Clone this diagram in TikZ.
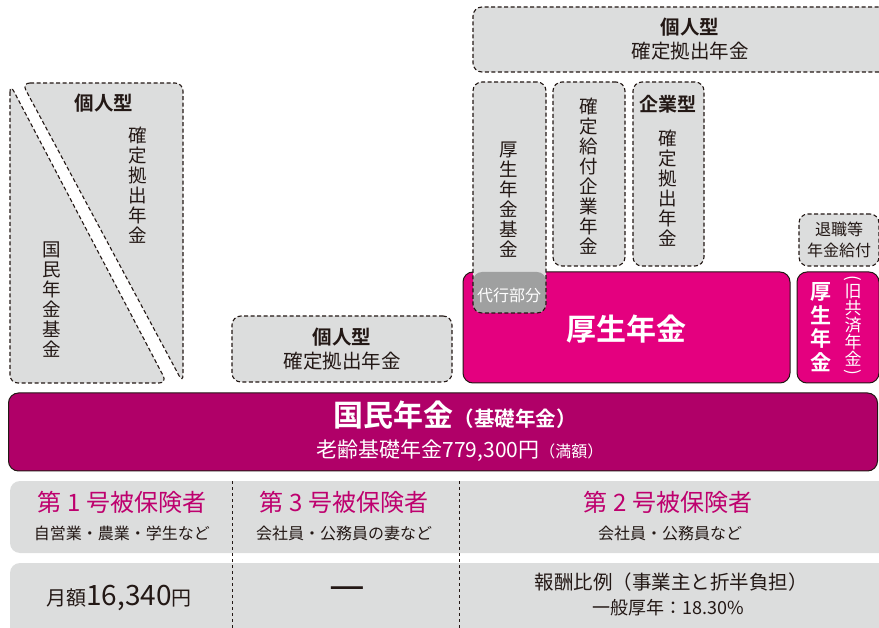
\documentclass[tikz,border=0pt]{standalone}
\usepackage{fontspec}
\setmainfont{Noto Sans CJK JP}[BoldFont={Noto Sans CJK JP Bold}]
\usetikzlibrary{positioning}

\definecolor{ink}{RGB}{35,24,21}
\definecolor{boxgray}{RGB}{220,221,221}
\definecolor{daigray}{RGB}{159,160,160}
\definecolor{kosei}{RGB}{228,0,127}
\definecolor{kokumin}{RGB}{176,0,104}
\definecolor{headpink}{RGB}{190,0,110}

\begin{document}
\begin{tikzpicture}[x=1pt, y=-1pt,
    dbox/.style={rectangle, draw=ink, fill=boxgray, rounded corners=9pt, dashed, dash pattern=on 4pt off 2.5pt, line width=1.1pt, text=ink, inner sep=0pt},
    pbox/.style={rectangle, draw=ink, fill=kosei, rounded corners=10pt, line width=1pt, text=white, inner sep=0pt},
    rowbox/.style={rectangle, fill=boxgray, rounded corners=10pt, inner sep=0pt},
    vert/.style={align=center, font=\fontsize{18.5}{20}\selectfont, text=ink, inner sep=0pt},
    head/.style={font=\fontsize{24}{26}\selectfont, text=headpink, inner sep=0pt},
    note/.style={font=\fontsize{16}{18}\selectfont, text=ink, inner sep=0pt},
    divider/.style={dashed, dash pattern=on 3pt off 3pt, line width=0.9pt, draw=ink}
]
    \useasboundingbox (0,0) rectangle (879,628);

    % Left block: fund and individual DC split diagonally
    \filldraw[fill=boxgray, draw=ink, dashed, dash pattern=on 4pt off 2.5pt, line width=1.1pt, rounded corners=8pt]
        (10,84) -- (10,383) -- (167,383) -- cycle;
    \filldraw[fill=boxgray, draw=ink, dashed, dash pattern=on 4pt off 2.5pt, line width=1.1pt, rounded corners=8pt]
        (22,83) -- (183,83) -- (183,383) -- cycle;
    \node[vert] (kikin) at (52,300) {国\\民\\年\\金\\基\\金};
    \node[vert, font=\fontsize{19.5}{20}\selectfont\bfseries] (kojin1) at (104,103) {個人型};
    \node[vert] (kojin1dc) at (138,185) {確\\定\\拠\\出\\年\\金};

    % Middle individual DC
    \node[dbox, minimum width=220pt, minimum height=66pt, align=center, font=\fontsize{19.5}{24}\selectfont] (kojin2) at (342,349) {\textbf{個人型}\\確定拠出年金};

    % Upper right individual DC
    \node[dbox, minimum width=434pt, minimum height=65pt, align=center, font=\fontsize{19.5}{24}\selectfont] (kojin3) at (690,39.5) {\textbf{個人型}\\確定拠出年金};

    % Employees' pension (drawn before the fund so the fund sits on top)
    \node[pbox, minimum width=327pt, minimum height=111pt] (kosei) at (626.5,327.5) {};
    \node[pbox, minimum width=82pt, minimum height=111pt] (kyosai) at (838,327.5) {};
    \node[vert, text=white, font=\fontsize{21}{23.5}\selectfont\bfseries] (kyosai1) at (821,327) {厚\\生\\年\\金};
    \node[vert, text=white, font=\fontsize{17}{17}\selectfont] (kyosai2) at (853,327) {\rotatebox[origin=c]{-90}{(}\\[-4pt]旧\\共\\済\\年\\金\\[-4pt]\rotatebox[origin=c]{-90}{)}};

    % Upper tier plans
    \node[dbox, minimum width=73pt, minimum height=231pt,
          path picture={\fill[daigray] (path picture bounding box.south west) rectangle ([yshift=41pt]path picture bounding box.south east);}] (kikin2) at (509.5,197.5) {};
    \node[vert] (kikin2lbl) at (509,200) {厚\\生\\年\\金\\基\\金};
    \node[note, text=white] (daiko) at (509,295) {代行部分};
    \node[text=white, font=\fontsize{30}{32}\selectfont\bfseries, inner sep=0pt] (koseilbl) at (626,329) {厚生年金};
    \node[dbox, minimum width=72pt, minimum height=184pt] (db) at (589,174) {};
    \node[vert] (dblbl) at (589,176) {確\\定\\給\\付\\企\\業\\年\\金};
    \node[dbox, minimum width=71pt, minimum height=184pt] (kigyo) at (668.5,174) {};
    \node[vert, font=\fontsize{19}{20}\selectfont\bfseries] (kigyohead) at (668,104) {企業型};
    \node[vert] (kigyolbl) at (668,188) {確\\定\\拠\\出\\年\\金};
    \node[dbox, minimum width=80pt, minimum height=52pt, align=center, font=\fontsize{16}{21}\selectfont] (taishoku) at (839,240) {退職等\\年金給付};

    % National pension bar
    \node[pbox, fill=kokumin, minimum width=869pt, minimum height=78pt] (kokumin) at (443,432) {};
    \node[text=white, inner sep=0pt] (kokumin1) at (455,415) {\fontsize{30}{32}\selectfont\bfseries 国民年金\fontsize{20.5}{22}\selectfont（基礎年金）};
    \node[text=white, inner sep=0pt] (kokumin2) at (460,451) {\fontsize{21}{23}\selectfont 老齢基礎年金779,300円\fontsize{16}{18}\selectfont（満額）};

    % Insured categories
    \node[rowbox, minimum width=900pt, minimum height=72pt] (row1) at (460,517) {};
    \node[rowbox, minimum width=900pt, minimum height=75pt] (row2) at (460,600.5) {};
    \coordinate (d1top) at (232,481);
    \coordinate (d1bot) at (232,628);
    \coordinate (d2top) at (459,481);
    \coordinate (d2bot) at (459,628);
    \draw[divider] (d1top) -- (d1bot);
    \draw[divider] (d2top) -- (d2bot);

    \node[head] (go1) at (122,502) {第 1 号被保険者};
    \node[note] (go1sub) at (122,533) {自営業・農業・学生など};
    \node[head] (go3) at (344,502) {第 3 号被保険者};
    \node[note] (go3sub) at (344,533) {会社員・公務員の妻など};
    \node[head] (go2) at (668,502) {第 2 号被保険者};
    \node[note] (go2sub) at (670,533) {会社員・公務員など};

    \node[note] (hoken1) at (119,598) {\fontsize{20}{22}\selectfont 月額\fontsize{28}{30}\selectfont 16,340\fontsize{20}{22}\selectfont 円};
    \node[note, font=\fontsize{20}{22}\selectfont] (hoken3) at (347,594) {\scalebox{2}[2.2]{—}};
    \node[note, font=\fontsize{19.5}{21}\selectfont] (hoken2) at (671,582) {報酬比例（事業主と折半負担）};
    \node[note, font=\fontsize{18}{20}\selectfont] (hoken2sub) at (668,608) {一般厚年：18.30\%};
\end{tikzpicture}
\end{document}
